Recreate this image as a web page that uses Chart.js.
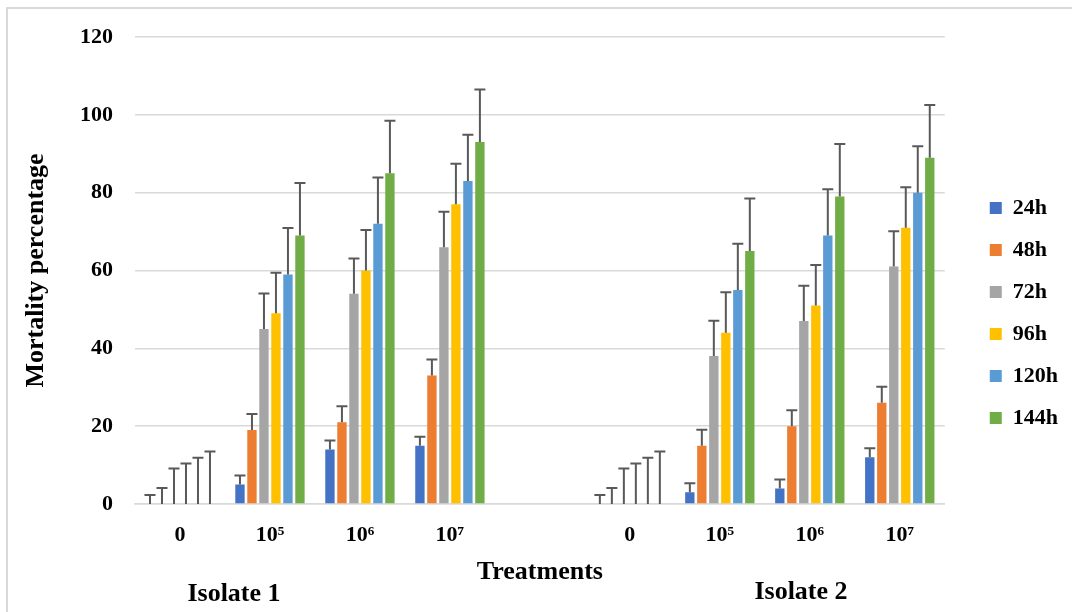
<!DOCTYPE html>
<html>
<head>
<meta charset="utf-8">
<script src="https://cdn.jsdelivr.net/npm/chart.js@4.4.1/dist/chart.umd.min.js"></script>
<style>
  html, body { margin: 0; padding: 0; background: #fff; }
  #wrap { position: relative; width: 1072px; height: 612px; overflow: hidden; }
  #frame { position: absolute; left: 6px; top: 7px; width: 1200px; height: 700px;
           border-left: 2px solid #d9d9d9; border-top: 2px solid #d9d9d9; }
  .iso { position: absolute; font: bold 26px "Liberation Serif", "Times New Roman", serif;
         line-height: 30px; color: #000; white-space: nowrap; transform: translateX(-50%); }
</style>
</head>
<body>
<div id="wrap">
  <div id="frame"></div>
  <canvas id="grafico" width="1072" height="612"></canvas>
  <div class="iso" style="left:234px; top:578px;">Isolate 1</div>
  <div class="iso" style="left:801px; top:576px;">Isolate 2</div>
</div>
<script>
// dados
const categorias = ["0", "10\u2075", "10\u2076", "10\u2077", "", "0", "10\u2075", "10\u2076", "10\u2077"];
const series = ["24h", "48h", "72h", "96h", "120h", "144h"];
const cores = ["#4472C4", "#ED7D31", "#A5A5A5", "#FFC000", "#5B9BD5", "#70AD47"];

const h24  = [0, 5, 14, 15, null, 0, 3, 4, 12];
const h48  = [0, 19, 21, 33, null, 0, 15, 20, 26];
const h72  = [0, 45, 54, 66, null, 0, 38, 47, 61];
const h96  = [0, 49, 60, 77, null, 0, 44, 51, 71];
const h120 = [0, 59, 72, 83, null, 0, 55, 69, 80];
const h144 = [0, 69, 85, 93, null, 0, 65, 79, 89];

// desvio (só para cima), um valor por série
const erros = [2.3, 4.1, 9.1, 10.4, 11.9, 13.5];

const yTicks = [0, 20, 40, 60, 80, 100, 120];

const valores = [h24, h48, h72, h96, h120, h144];
const FONTE = '"Liberation Serif", "Times New Roman", serif';

// barras de erro estilo Excel
const barrasErro = {
  id: "barrasErro",
  afterDatasetsDraw(chart) {
    const ctx = chart.ctx;
    const y = chart.scales.y;
    ctx.save();
    ctx.strokeStyle = "#595959";
    ctx.lineWidth = 2;
    chart.data.datasets.forEach((ds, i) => {
      const meta = chart.getDatasetMeta(i);
      meta.data.forEach((bar, j) => {
        const v = ds.data[j];
        if (v === null || v === undefined) return;
        const topo = y.getPixelForValue(v + erros[i]);
        const base = y.getPixelForValue(v);
        ctx.beginPath();
        ctx.moveTo(bar.x, base);
        ctx.lineTo(bar.x, topo);
        ctx.moveTo(bar.x - 5.5, topo);
        ctx.lineTo(bar.x + 5.5, topo);
        ctx.stroke();
      });
    });
    ctx.restore();
  }
};

const grafico = new Chart(document.querySelector("#grafico"), {
  type: "bar",
  data: {
    labels: categorias,
    datasets: series.map((nome, i) => ({
      label: nome,
      data: valores[i],
      backgroundColor: cores[i],
      categoryPercentage: 0.8,
      barPercentage: 0.78,
    })),
  },
  options: {
    responsive: false,
    animation: false,
    layout: { padding: { top: 37, left: 0, right: 4, bottom: 23 } },
    plugins: {
      legend: {
        position: "right",
        align: "center",
        labels: {
          boxWidth: 12,
          boxHeight: 12,
          padding: 20,
          color: "#000",
          font: { family: FONTE, size: 22, weight: "bold" },
        },
      },
      tooltip: { enabled: false },
    },
    scales: {
      x: {
        grid: { display: false, drawTicks: false },
        border: { display: true, color: "#d9d9d9", width: 1.5 },
        ticks: {
          color: "#000",
          padding: 18,
          font: { family: FONTE, size: 22, weight: "bold" },
        },
        title: {
          display: true,
          text: "Treatments",
          color: "#000",
          font: { family: FONTE, size: 26, weight: "bold" },
          padding: { top: 0, bottom: 1 },
        },
        afterFit(s) { s.height = 85; },
      },
      y: {
        min: 0,
        max: 120,
        afterBuildTicks(s) { s.ticks = yTicks.map(v => ({ value: v })); },
        grid: { color: "#d9d9d9", lineWidth: 1.5, drawTicks: false },
        border: { display: false },
        ticks: {
          color: "#000",
          padding: 22,
          font: { family: FONTE, size: 22, weight: "bold" },
        },
        title: {
          display: true,
          text: "Mortality percentage",
          color: "#000",
          font: { family: FONTE, size: 26, weight: "bold" },
          padding: { top: 21, bottom: 0 },
        },
        afterFit(s) { s.width = 135; },
      },
      // eixo vazio só para afastar a legenda do gráfico
      yr: {
        position: "right",
        display: true,
        grid: { display: false, drawTicks: false },
        border: { display: false },
        ticks: { display: false },
        afterFit(s) { s.width = 25; },
      },
    },
  },
  plugins: [barrasErro],
});
</script>
</body>
</html>
